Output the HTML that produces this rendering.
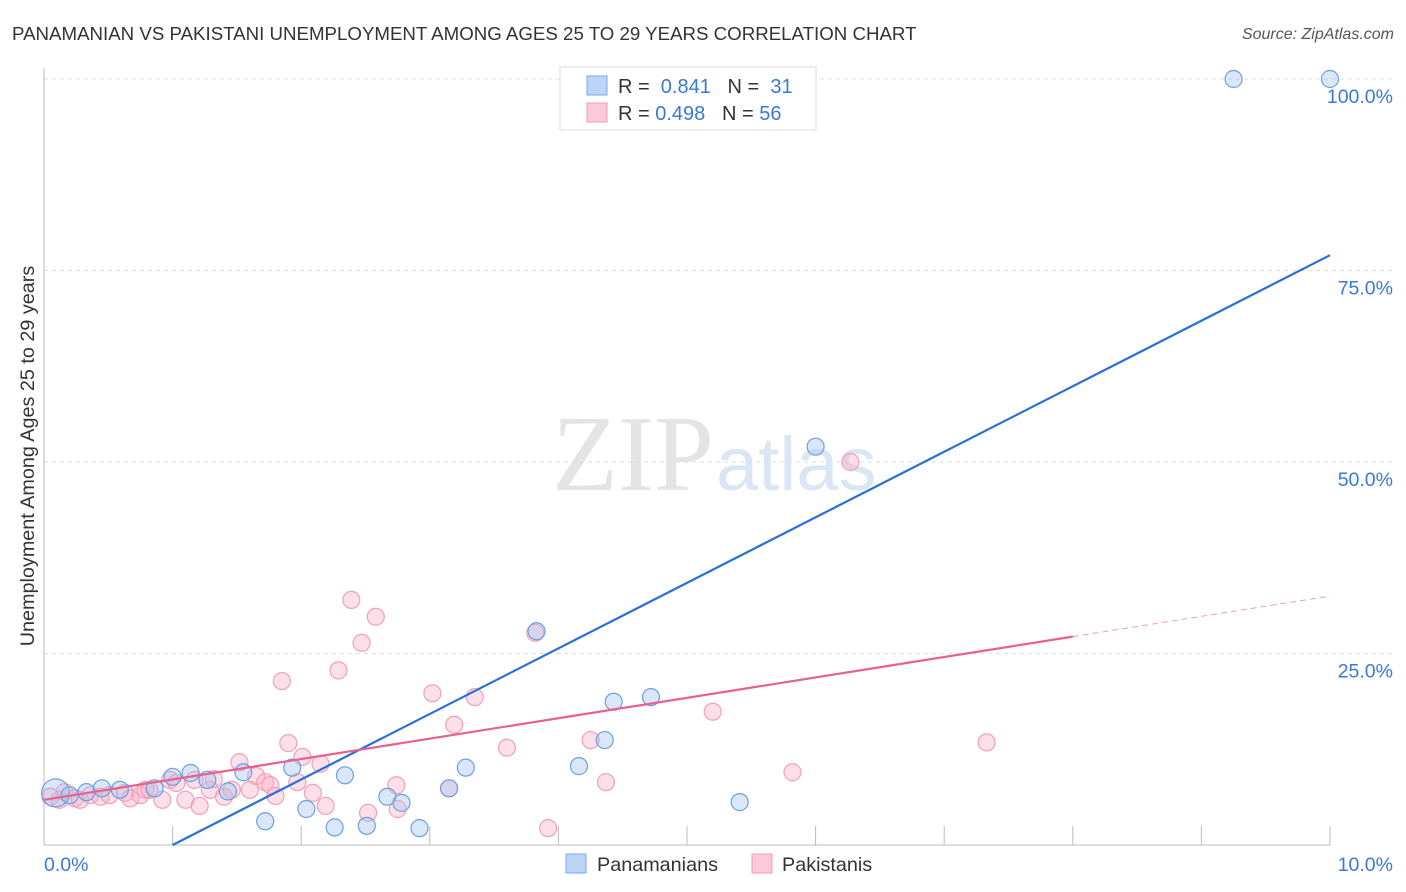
<!DOCTYPE html>
<html><head><meta charset="utf-8"><style>
body{margin:0;background:#fff;font-family:"Liberation Sans",sans-serif;}
#c{position:relative;width:1406px;height:892px;overflow:hidden;}
</style></head><body>
<div id="c">
<svg id="s" width="1406" height="892">
<text x="12" y="40" font-size="18.7" fill="#333">PANAMANIAN VS PAKISTANI UNEMPLOYMENT AMONG AGES 25 TO 29 YEARS CORRELATION CHART</text>
<text x="1394" y="39" font-size="16" fill="#555" font-style="italic" text-anchor="end">Source: ZipAtlas.com</text>
<text x="714" y="490" font-size="108" fill="#e4e4e4" text-anchor="end" font-family="Liberation Serif">ZIP</text>
<text x="716" y="490" font-size="76" fill="#dbe6f5">atlas</text>
<text transform="translate(34,456) rotate(-90)" font-size="19.8" fill="#333" text-anchor="middle">Unemployment Among Ages 25 to 29 years</text>
<g id="grid"></g><g id="pts"></g><g id="lines"></g><g id="lab"></g>
<g>
<rect x="560" y="67" width="256" height="63" fill="#fff" stroke="#ddd"/>
<rect x="587" y="76" width="20" height="19" fill="#bcd5f6" stroke="#7aa8e6"/>
<rect x="587" y="103" width="20" height="19" fill="#fbc9d8" stroke="#f09ab6"/>
<text x="618" y="93" font-size="20" fill="#333">R = <tspan fill="#3a78d8">&#160;0.841</tspan>&#160;&#160;&#160;N = <tspan fill="#3a78d8">&#160;31</tspan></text>
<text x="618" y="120" font-size="20" fill="#333">R = <tspan fill="#3a78d8">0.498</tspan>&#160;&#160;&#160;N = <tspan fill="#3a78d8">56</tspan></text>
</g>
<g>
<rect x="566" y="854" width="20" height="19" fill="#bcd5f6" stroke="#7aa8e6"/>
<text x="597" y="871" font-size="19.8" fill="#333">Panamanians</text>
<rect x="752" y="854" width="20" height="19" fill="#fbc9d8" stroke="#f09ab6"/>
<text x="782" y="871" font-size="19.8" fill="#333">Pakistanis</text>
</g>
</svg>
</div>
<script>
const blueX=[0.09,0.20,0.33,0.45,0.59,0.86,1.00,1.14,1.27,1.43,1.55,1.72,1.93,2.04,2.26,2.34,2.51,2.67,2.78,2.92,3.15,3.28,3.83,4.16,4.36,4.43,4.72,5.41,6.00,9.25,10.0];
const blueY=[6.8,6.5,6.9,7.4,7.2,7.4,8.9,9.4,8.5,7.0,9.5,3.1,10.1,4.7,2.3,9.1,2.5,6.3,5.5,2.2,7.4,10.1,27.9,10.3,13.7,18.7,19.3,5.6,52.0,100,100];
const pinkX=[0.05,0.12,0.16,0.24,0.28,0.36,0.44,0.51,0.63,0.67,0.75,0.79,0.82,0.92,0.98,1.03,1.10,1.17,1.21,1.29,1.32,1.40,1.46,1.52,1.60,1.65,1.72,1.76,1.80,1.85,1.90,1.97,2.01,2.09,2.15,2.19,2.29,2.39,2.47,2.52,2.58,2.74,2.75,3.02,3.15,3.19,3.35,3.60,3.82,3.92,4.25,4.37,5.20,5.82,6.27,7.33];
const pinkY=[6.3,5.9,6.9,6.1,5.9,6.5,6.3,6.5,6.8,6.1,6.5,7.2,7.2,5.9,8.5,8.1,5.9,8.5,5.1,7.2,8.6,6.3,7.2,10.8,7.2,9.0,8.2,7.8,6.4,21.4,13.3,8.2,11.5,6.8,10.6,5.1,22.8,32.0,26.4,4.2,29.8,7.8,4.7,19.8,7.4,15.7,19.3,12.7,27.7,2.2,13.7,8.2,17.4,9.5,50.0,13.4];
const yTicks=[25,50,75,100];
const yTickLabels=["25.0%","50.0%","75.0%","100.0%"];
const blueLine=[[1,0],[10,77]];
const pinkLine=[[0,5.9],[8,27.2]];
const pinkDash=[[8,27.2],[10,32.5]];
const X=v=>44+v*128.6, Y=v=>845-v*7.66;
const NS="http://www.w3.org/2000/svg";
function mk(t,a,p){const e=document.createElementNS(NS,t);for(const k in a)e.setAttribute(k,a[k]);p.appendChild(e);return e;}
const g=document.getElementById('grid');
yTicks.forEach((t,i)=>{const l=mk('line',{x1:44,x2:1394,y1:Y(t),y2:Y(t),stroke:'#ddd','stroke-dasharray':'4,4'},g);


const tx=mk('text',{x:1393,y:Y(t)+24,'font-size':19.5,fill:'#3a78d8','text-anchor':'end'},document.getElementById('lab'));tx.textContent=yTickLabels[i];

});
const ax=mk('line',{x1:44,x2:44,y1:68,y2:845,stroke:'#bbb'},g);


const bx=mk('line',{x1:44,x2:1330,y1:845,y2:845,stroke:'#bbb'},g);


for(let i=1;i<=10;i++){const t=mk('line',{x1:X(i),x2:X(i),y1:826,y2:845,stroke:'#bbb'},g);

}
[["0.0%",44,'start'],["10.0%",1393,'end']].forEach(a=>{const t=mk('text',{x:a[1],y:871,'font-size':19.5,fill:'#3a78d8','text-anchor':a[2]},document.getElementById('lab'));t.textContent=a[0];

});
const P=document.getElementById('pts');
pinkX.forEach((x,i)=>{const c=mk('circle',{cx:X(x),cy:Y(pinkY[i]),r:8.5,fill:'rgba(248,175,198,0.4)',stroke:'#f0a0ba','stroke-width':1.2},P);

});
blueX.forEach((x,i)=>{const c=mk('circle',{cx:X(x),cy:Y(blueY[i]),r:i==0?14:8.5,fill:'rgba(160,196,240,0.4)',stroke:'#6d9fe0','stroke-width':1.2},P);

});
const L=document.getElementById('lines');
const b=mk('line',{x1:X(blueLine[0][0]),y1:Y(blueLine[0][1]),x2:X(blueLine[1][0]),y2:Y(blueLine[1][1]),stroke:'#2a6fd6','stroke-width':2.2},L);


const p=mk('line',{x1:X(pinkLine[0][0]),y1:Y(pinkLine[0][1]),x2:X(pinkLine[1][0]),y2:Y(pinkLine[1][1]),stroke:'#e8608e','stroke-width':2.2},L);


const d=mk('line',{x1:X(pinkDash[0][0]),y1:Y(pinkDash[0][1]),x2:X(pinkDash[1][0]),y2:Y(pinkDash[1][1]),stroke:'#eea0b8','stroke-width':1,'stroke-dasharray':'6,4'},L);


</script>
</body></html>
